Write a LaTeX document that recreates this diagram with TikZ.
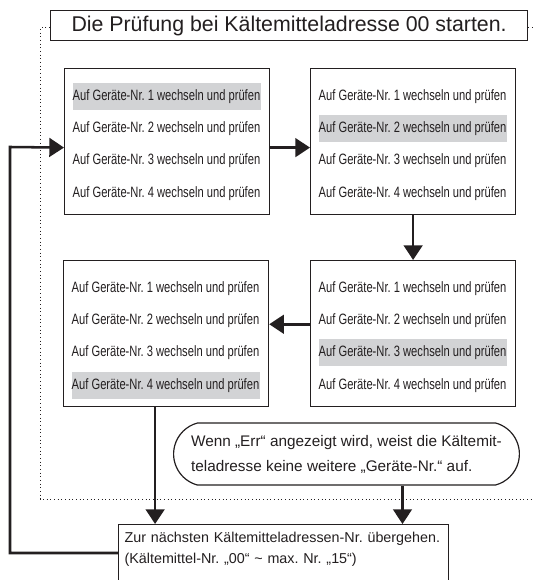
\documentclass[tikz,border=0pt]{standalone}
\usepackage{fontspec}
\setmainfont{Liberation Sans}
\newfontfamily\narrowfont[FakeStretch=0.745]{Liberation Sans}
\usepackage{tikz}
\usetikzlibrary{arrows.meta,positioning,shapes.misc,calc}
\definecolor{chkink}{HTML}{231F20}
\definecolor{chkmark}{HTML}{D2D3D5}
\frenchspacing
\tikzset{
  panel/.style={rectangle, draw=chkink, line width=0.9pt, fill=white,
                minimum width=153.75pt, minimum height=109.5pt, inner sep=0pt},
  chkrow/.style={rectangle, minimum width=141pt, minimum height=20.25pt, inner sep=0pt,
                 text=chkink, font=\narrowfont\fontsize{11.25}{13}\selectfont},
  chkrowhl/.style={chkrow, fill=chkmark},
  titlebox/.style={rectangle, draw=chkink, line width=0.9pt, fill=white,
                   minimum width=357.75pt, minimum height=22.5pt, inner sep=0pt,
                   text=chkink, font=\fontsize{16}{18}\selectfont},
  callout/.style={rounded rectangle, rounded rectangle arc length=150, draw=chkink,
                  line width=0.9pt, fill=white, minimum width=266pt, minimum height=46.5pt,
                  align=left, text=chkink, font=\fontsize{11.5}{18.75}\selectfont},
  nextbox/.style={rectangle, draw=chkink, line width=0.9pt, fill=white,
                  text width=238.5pt, align=left, inner xsep=4.5pt, inner ysep=6pt,
                  text=chkink, font=\fontsize{10.75}{15.75}\selectfont},
  flow/.style={-{Triangle[length=11pt,width=14pt]}, draw=chkink, line width=1.9pt},
  dotframe/.style={draw=chkink, dotted, line width=0.75pt},
}

\begin{document}
\begin{tikzpicture}[x=0.75pt,y=-0.75pt]
\path[use as bounding box, clip] (0,0) rectangle (533,580);

% ---------- start ----------
\node[titlebox,anchor=north west] (start) at (50,10)
   {Die Prüfung bei Kältemitteladresse 00 starten.};

% ---------- dotted frame ----------
\coordinate (dnw) at (40,28);
\coordinate (dsw) at (40,499);
\coordinate (dse) at (540,499);
\coordinate (dne) at (540,28);
\draw[dotframe] (start.west |- dnw) -- (dnw) -- (dsw) -- (dse);
\draw[dotframe] (start.east |- dne) -- (dne);

% ---------- the four check panels ----------
\foreach \b/\x/\y/\h in {b1/64/68/1, b2/310/68/2, b3/310/260/3, b4/63/260/4} {
  \node[panel,anchor=north west] (\b) at (\x,\y) {};
  \foreach \i in {1,...,4} {
    \ifnum\i=\h \def\rs{chkrowhl}\else\def\rs{chkrow}\fi
    \node[\rs] (\b r\i) at (\x+102.5,\y-4+32.3*\i) {Auf Geräte-Nr. \i\ wechseln und prüfen};
  }
}
\draw[flow] ([yshift=-4.5pt]b1.east) -- ([yshift=-4.5pt]b2.west);
\draw[flow] (b2.south) -- (b3.north);
\draw[flow] ([yshift=7pt]b3.west) -- ([yshift=7pt]b4.east);

% ---------- error note ----------
\node[callout,anchor=west] (err) at (173,454)
   {Wenn „Err“ angezeigt wird, weist die Kältemit-\\teladresse keine weitere „Geräte-Nr.“ auf.};

% ---------- next refrigerant address ----------
\node[nextbox,anchor=north west] (next) at (118,524)
   {Zur nächsten Kältemitteladressen-Nr. übergehen.\\(Kältemittel-Nr. „00“ \textasciitilde{} max. Nr. „15“)\\[25pt]\mbox{}};
\coordinate (b4out) at ($(b4.south)+(-11,0)$);
\draw[flow] (b4out) -- (b4out |- next.north);
\coordinate (errout) at ($(err.south)+(56,0)$);
\draw[flow] (errout) -- (errout |- next.north);

% ---------- back to the first panel ----------
\coordinate (fb) at ($(next.north west)+(0,29)$);
\coordinate (back) at (10,147);
\draw[flow] (fb) -| (back) -- ([yshift=-4.5pt]b1.west);
\end{tikzpicture}
\end{document}
